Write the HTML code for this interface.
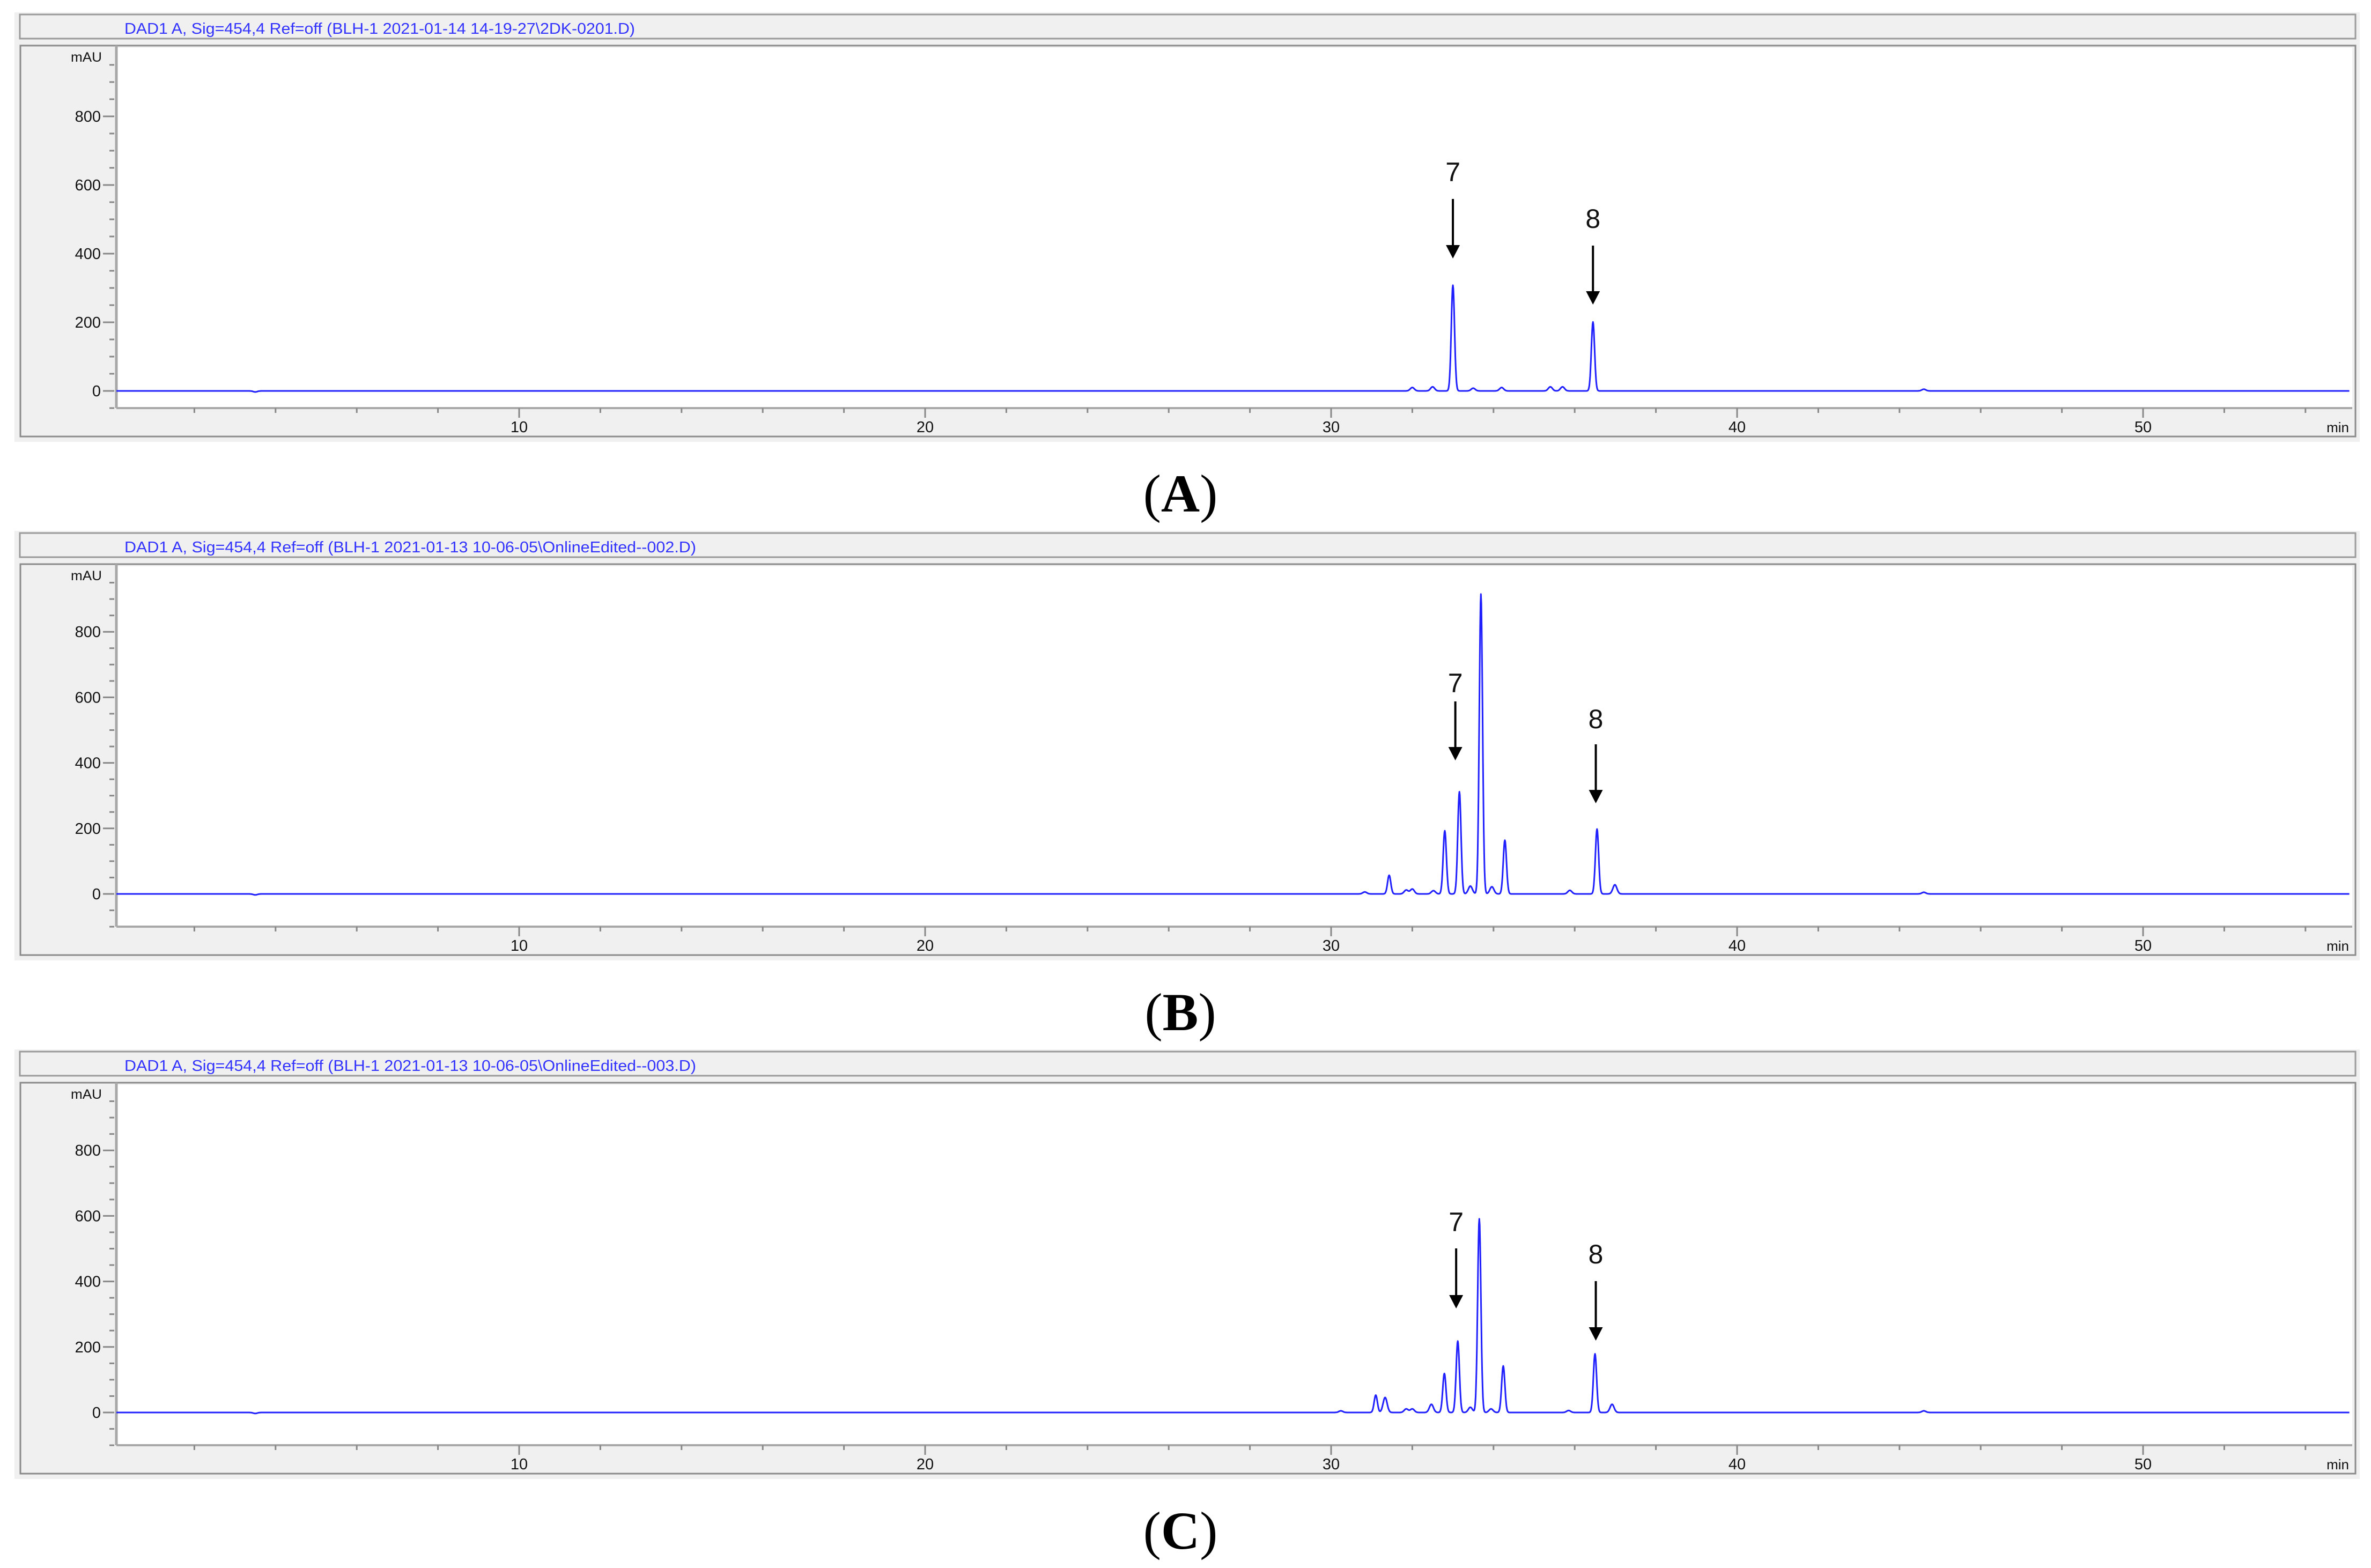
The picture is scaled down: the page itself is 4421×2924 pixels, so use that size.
<!DOCTYPE html>
<html><head><meta charset="utf-8">
<style>
html,body{margin:0;padding:0;background:#fff;}
svg{display:block;}
</style></head>
<body>
<svg id="fig" width="4421" height="2924" viewBox="0 0 4421 2924" xmlns="http://www.w3.org/2000/svg"></svg>
<script>
// ---- data ----
const panelKeys = ["A","B","C"];
const titles = [
 "DAD1 A, Sig=454,4 Ref=off (BLH-1 2021-01-14 14-19-27\\2DK-0201.D)",
 "DAD1 A, Sig=454,4 Ref=off (BLH-1 2021-01-13 10-06-05\\OnlineEdited--002.D)",
 "DAD1 A, Sig=454,4 Ref=off (BLH-1 2021-01-13 10-06-05\\OnlineEdited--003.D)"
];
const peakTimesA = [3.5, 32.0, 32.5, 33.0, 33.5, 34.2, 35.4, 35.7, 36.45, 44.6];
const peakHeightsA = [-3, 10, 12, 308, 8, 10, 12, 12, 201, 5];
const peakTimesB = [3.5, 30.83, 31.43, 31.85, 32.0, 32.52, 32.80, 33.16, 33.43, 33.69, 33.96, 34.28, 35.88, 36.55, 36.99, 44.6];
const peakHeightsB = [-3, 6, 57, 12, 15, 10, 193, 312, 24, 915, 22, 164, 11, 198, 28, 5];
const peakTimesC = [3.5, 30.24, 31.10, 31.33, 31.85, 32.0, 32.47, 32.79, 33.12, 33.43, 33.65, 33.94, 34.24, 35.85, 36.50, 36.92, 44.6];
const peakHeightsC = [-3, 5, 53, 46, 11, 11, 25, 119, 218, 16, 591, 11, 142, 6, 179, 25, 5];
const arrowTimesA = [33.0, 36.45];
const arrowTimesB = [33.06, 36.52];
const arrowTimesC = [33.08, 36.52];
const arrowLabels = ["7","8"];
const yTickLabels = ["0","200","400","600","800"];
const xTickLabels = ["10","20","30","40","50"];

// ---- layout ----
const NS="http://www.w3.org/2000/svg";
const svg=document.getElementById('fig');
function mk(tag,attrs,parent){const e=document.createElementNS(NS,tag);for(const k in attrs)e.setAttribute(k,attrs[k]);(parent||svg).appendChild(e);return e;}
const PL=217, PR=4386;
function xScale(t){return 211+75.7*t;}
const panelDy=[0,967,1934];
const yMin=[-50,-100,-100];
const pxPerUnit=[0.64,0.611,0.611];
const arrowGeom=[
 [{ly:320,l0:371,l1:482},{ly:407,l0:458,l1:568}],
 [{ly:1273,l0:1308,l1:1418},{ly:1340,l0:1388,l1:1498}],
 [{ly:2278,l0:2328,l1:2440},{ly:2338,l0:2389,l1:2500}]
];
const peakT=[peakTimesA,peakTimesB,peakTimesC];
const peakH=[peakHeightsA,peakHeightsB,peakHeightsC];
const arrT=[arrowTimesA,arrowTimesB,arrowTimesC];
const labelBase=[954,1921,2888];

for(let p=0;p<3;p++){
  const dy=panelDy[p];
  const top=89+dy, axisY=761+dy;
  const zero=top+1000*pxPerUnit[p];
  const yScale=v=>zero-v*pxPerUnit[p];
  const g=mk('g',{});
  
  
  // outer grey
  let r=mk('rect',{x:27,y:23+dy,width:4373,height:801,fill:'#f0f0f0'},g);
  
  // title bar
  r=mk('rect',{x:37,y:27+dy,width:4355,height:45,fill:'#f0f0f0',stroke:'#9a9a9a','stroke-width':3},g);
  
  let tt=mk('text',{x:232,y:63+dy,'font-family':'Liberation Sans, sans-serif','font-size':29,fill:'#3333ff',textLength:(p==0?952:1066),lengthAdjust:'spacingAndGlyphs'},g);
  tt.textContent=titles[p];
  
  // frame
  r=mk('rect',{x:38,y:85+dy,width:4354,height:729,fill:'#f0f0f0',stroke:'#8a8a8a','stroke-width':3},g);
  
  r=mk('rect',{x:PL,y:top,width:PR-PL,height:axisY-top,fill:'#ffffff'},g);
  
  // axes lines
  let a=mk('line',{x1:PL,y1:top-4,x2:PL,y2:axisY,stroke:'#a8a8a8','stroke-width':5},g);
  
  a=mk('line',{x1:PL,y1:axisY,x2:PR,y2:axisY,stroke:'#a8a8a8','stroke-width':4},g);
  
  // y ticks
  for(let v=yMin[p]; v<=950; v+=50){
    const y=yScale(v); const major=(v%200===0 && v>=0);
    const tk=mk('line',{x1:major?192:204,y1:y,x2:213,y2:y,stroke:'#888','stroke-width':3},g);
    
  }
  yTickLabels.forEach(s=>{
    const tl=mk('text',{x:188,y:yScale(+s)+10,'text-anchor':'end','font-family':'Liberation Sans, sans-serif','font-size':29,fill:'#111'},g);
    tl.textContent=s;
    
  });
  const mau=mk('text',{x:190,y:top+26,'text-anchor':'end','font-family':'Liberation Sans, sans-serif','font-size':25,fill:'#111',textLength:58,lengthAdjust:'spacingAndGlyphs'},g);
  mau.textContent='mAU';
  
  // x ticks
  for(let t=2;t<=54;t+=2){
    const x=xScale(t); const major=(t%10===0);
    const tk=mk('line',{x1:x,y1:axisY,x2:x,y2:axisY+(major?18:9),stroke:'#888','stroke-width':3},g);
    
  }
  xTickLabels.forEach(s=>{
    const tl=mk('text',{x:xScale(+s),y:axisY+45,'text-anchor':'middle','font-family':'Liberation Sans, sans-serif','font-size':29,fill:'#111'},g);
    tl.textContent=s;
    
  });
  const mn=mk('text',{x:4380,y:axisY+45,'text-anchor':'end','font-family':'Liberation Sans, sans-serif','font-size':26,fill:'#111'},g);
  mn.textContent='min';
  
  // trace
  const T=peakT[p], H=peakH[p];
  let d='';
  for(let i=0;i<=5500;i++){
    const t=0.08+i*0.01; if(xScale(t)>PR-2) break;
    let v=0;
    for(let k=0;k<T.length;k++){
      const s=(Math.abs(H[k])>50)?0.04:0.05;
      const z=(t-T[k])/s; v+=H[k]*Math.exp(-0.5*z*z);
    }
    d+=(i?'L':'M')+xScale(t).toFixed(1)+' '+yScale(v).toFixed(1);
  }
  const tr=mk('path',{d:d,fill:'none',stroke:'#2020ff','stroke-width':3,'stroke-linejoin':'round'},g);
  
  // arrows
  arrT[p].forEach((t,k)=>{
    const x=xScale(t), ag=arrowGeom[p][k];
    const lab=mk('text',{x:x,y:ag.ly+18,'text-anchor':'middle','font-family':'Liberation Sans, sans-serif','font-size':50,fill:'#111'},g);
    lab.textContent=arrowLabels[k];
    
    const ln=mk('line',{x1:x,y1:ag.l0,x2:x,y2:ag.l1-20,stroke:'#000','stroke-width':4},g);
    
    const hd=mk('polygon',{points:(x-13)+','+(ag.l1-25)+' '+(x+13)+','+(ag.l1-25)+' '+x+','+ag.l1,fill:'#000'},g);
    
  });
  // panel label
  const pl=mk('text',{x:2201,y:labelBase[p],'text-anchor':'middle','font-family':'Liberation Serif, serif','font-size':100,fill:'#000'});
  
  const s1=mk('tspan',{},pl);s1.textContent='(';
  const s2=mk('tspan',{'font-weight':'bold'},pl);s2.textContent=panelKeys[p];
  const s3=mk('tspan',{},pl);s3.textContent=')';
}
</script>
</body></html>
